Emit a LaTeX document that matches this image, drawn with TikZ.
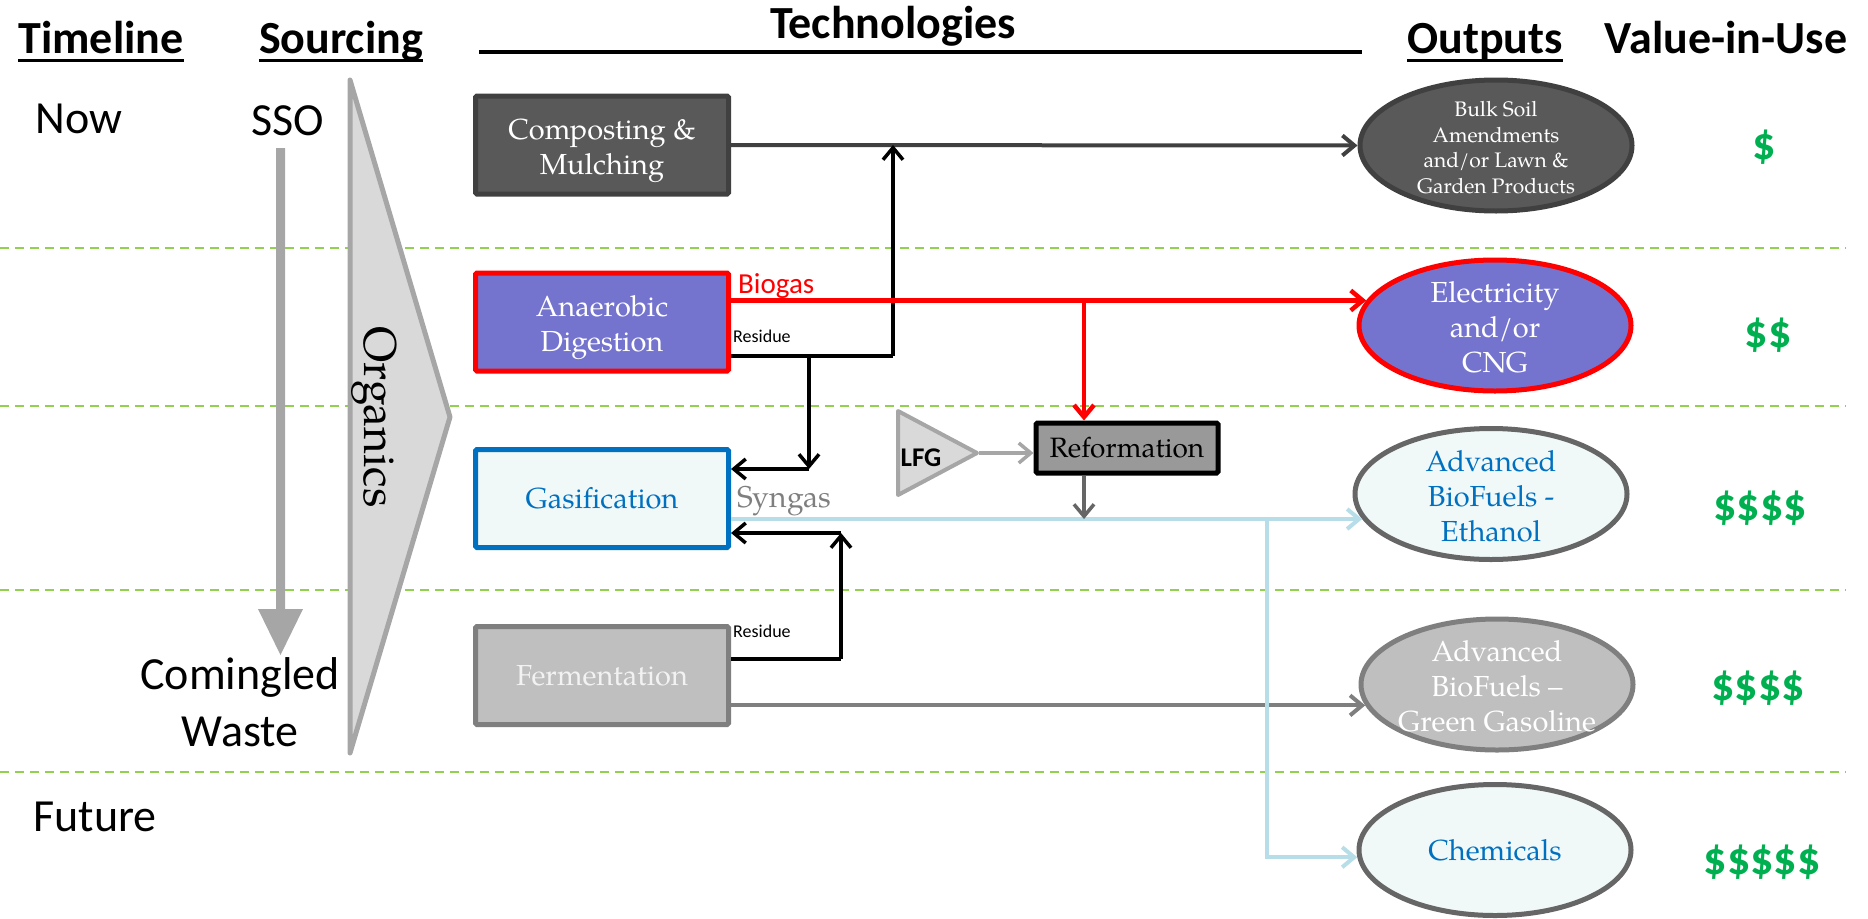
\documentclass[tikz,border=0pt]{standalone}
\usepackage{fontspec}
\setmainfont{Carlito}
\newfontfamily\palfont{texgyrepagella-regular.otf}
\usetikzlibrary{arrows.meta,shapes.geometric}
\definecolor{bandgreen}{HTML}{92D050}
\definecolor{dkbox}{HTML}{595959}
\definecolor{dkedge}{HTML}{404040}
\definecolor{adfill}{HTML}{7474CF}
\definecolor{lightfill}{HTML}{F0F8F8}
\definecolor{techblue}{HTML}{0070C0}
\definecolor{midgray}{HTML}{BFBFBF}
\definecolor{grayA}{HTML}{7F7F7F}
\definecolor{grayB}{HTML}{666666}
\definecolor{grayC}{HTML}{999999}
\definecolor{trigray}{HTML}{A6A6A6}
\definecolor{trifill}{HTML}{D9D9D9}
\definecolor{synblue}{HTML}{B7DDE8}
\definecolor{moneygreen}{HTML}{00B050}
\begin{document}
\begin{tikzpicture}[x=1pt,y=-1pt,
  >={Straight Barb[length=12pt,width=20pt]},
  hdr/.style={font=\fontsize{46}{52}\selectfont\bfseries, inner sep=0, anchor=base},
  sidetext/.style={font=\fontsize{46}{57}\selectfont, inner sep=0, align=center},
  techbox/.style={draw, line width=5pt, minimum width=253pt, minimum height=98pt, inner sep=0, align=center, font=\palfont\fontsize{29}{35}\selectfont, rounded corners=1.5pt},
  boxtext/.style={align=center, font=\palfont\fontsize{29}{35}\selectfont, inner sep=0, yshift=-6pt},
  outp/.style={ellipse, line width=5pt, inner sep=0, minimum width=272pt, minimum height=131pt},
  otext/.style={align=center, font=\palfont\fontsize{29}{35}\selectfont, inner sep=0, yshift=-2pt},
  moneytext/.style={font=\fontsize{46}{50}\selectfont\bfseries, text=moneygreen, inner sep=0},
  band/.style={draw=bandgreen, line width=2.5pt, dash pattern=on 9pt off 6pt},
  blk/.style={line width=3.5pt, draw=black},
  redline/.style={line width=4.5pt, draw=red},
  compline/.style={line width=4pt, draw=dkedge},
  fermline/.style={line width=4pt, draw=grayA},
  synline/.style={line width=4pt, draw=synblue},
  lfgline/.style={line width=3.5pt, draw=trigray},
  refline/.style={line width=3.5pt, draw=grayB},
  smalllab/.style={font=\fontsize{18}{20}\selectfont, inner sep=0, anchor=base west}
]
\useasboundingbox (0,0) rectangle (1868,918);

% horizontal bands
\draw[band] (0,248) -- (1846,248);
\draw[band] (0,406) -- (1846,406);
\draw[band] (0,590) -- (1846,590);
\draw[band] (0,772) -- (1846,772);

% headers
\node[hdr] (hTime) at (101,53) {Timeline};
\node[hdr] (hSrc) at (341,53) {Sourcing};
\node[hdr] (hTech) at (893,38) {Technologies};
\node[hdr] (hOut) at (1485,53) {Outputs};
\node[hdr] (hVal) at (1726,53) {Value-in-Use};
\draw[line width=3pt] ([yshift=-7pt]hTime.base west) -- ([yshift=-7pt]hTime.base east);
\draw[line width=3pt] ([yshift=-7pt]hSrc.base west) -- ([yshift=-7pt]hSrc.base east);
\draw[line width=3pt] ([yshift=-7pt]hOut.base west) -- ([yshift=-7pt]hOut.base east);
\draw[line width=3.5pt] (479,52) -- (1362,52);

% timeline / sourcing
\node[sidetext, anchor=base] (now) at (79,133) {Now};
\node[sidetext, anchor=base] (future) at (95,831) {Future};
\node[sidetext, anchor=base] (sso) at (288,135) {SSO};
\node[sidetext] (cw) at (240,702) {Comingled\\Waste};
\fill[trigray] (276,148) -- (285,148) -- (285,609) -- (303,609) -- (280.5,655) -- (258,609) -- (276,609) -- cycle;

% organics funnel
\draw[draw=trigray, fill=trifill, line width=5pt, line join=round] (350,80) -- (450,417) -- (350,753) -- cycle;
\node[rotate=-90, font=\palfont\fontsize{46}{50}\selectfont, inner sep=0] (org) at (374,417) {Organics};

% technologies
\node[techbox, draw=dkedge, fill=dkbox, label={[boxtext, text=white]center:Composting \&\\Mulching}] (comp) at (602,145) {};
\node[techbox, draw=red, fill=adfill, label={[boxtext, text=white]center:Anaerobic\\Digestion}] (anaer) at (602,322) {};
\node[techbox, draw=techblue, fill=lightfill, text=techblue] (gasif) at (602,498.5) {Gasification};
\node[techbox, draw=grayA, fill=midgray, text=white!95!black] (ferm) at (602,675.5) {Fermentation};

% LFG and reformation
\draw[draw=trigray, fill=trifill, line width=4pt, line join=round] (898,411) -- (977,453) -- (898,495) -- cycle;
\node[font=\fontsize{27}{30}\selectfont\bfseries, inner sep=0] (lfg) at (921,458) {LFG};
\coordinate (lfgtip) at (979,453);
\node[techbox, draw=black, fill=grayC, text=black, minimum width=182pt, minimum height=50pt, font=\palfont\fontsize{28}{32}\selectfont] (reform) at (1127,448) {Reformation};

% outputs
\node[outp, draw=dkedge, fill=dkbox, label={[otext, font=\palfont\fontsize{21}{25.7}\selectfont, text=white]center:Bulk Soil\\Amendments\\and/or Lawn \&\\Garden Products}] (bulk) at (1496,145.5) {};
\node[outp, draw=red, fill=adfill, label={[otext, text=white]center:Electricity\\and/or\\CNG}] (elec) at (1495,325.5) {};
\node[outp, draw=grayB, fill=lightfill, label={[otext, text=techblue]center:Advanced\\BioFuels -\\Ethanol}] (eth) at (1491,494) {};
\node[outp, draw=grayA, fill=midgray, label={[otext, text=white]center:Advanced\\BioFuels –\\Green Gasoline}] (gas) at (1497,684.5) {};
\node[outp, draw=grayB, fill=lightfill, label={[otext, text=techblue, yshift=2pt]center:Chemicals}] (chem) at (1495,850) {};

% values
\node[moneytext] (v1) at (1764,147) {\$};
\node[moneytext] (v2) at (1768,335) {\$\$};
\node[moneytext] (v3) at (1760,508) {\$\$\$\$};
\node[moneytext] (v4) at (1758,688) {\$\$\$\$};
\node[moneytext] (v5) at (1762,862) {\$\$\$\$\$};

% labels on connectors
\node[anchor=base west, text=red, font=\fontsize{29}{32}\selectfont, inner sep=0] (biogas) at (738,293) {Biogas};
\node[smalllab] (res1) at (733,342) {Residue};
\node[smalllab] (res2) at (733,637) {Residue};
\node[anchor=base west, text=grayA, font=\palfont\fontsize{30}{34}\selectfont, inner sep=0] (syngas) at (737,507) {Syngas};

% junction references
\coordinate (jres) at (893,356);
\coordinate (jresd) at (809,356);
\coordinate (jgasA) at (809,469);
\coordinate (jferm) at (841,659);
\coordinate (jgasB) at (841,533);
\coordinate (xred) at (1084,0);
\coordinate (xref) at (1084,0);
\coordinate (xsyn) at (1267,0);

% connectors
\draw[compline,->] (comp.east) -- (bulk.west);
\draw[fermline,->] (ferm.east |- gas.189) -- (gas.189);
\draw[synline,->] (gasif.east |- eth.191) -- (eth.191);
\draw[synline,->] (xsyn |- eth.191) -- (xsyn |- chem.183) -- (chem.183);
\draw[blk] (anaer.east |- jres) -- (jres);
\draw[blk,->] (jres) -- (jres |- comp.east);
\draw[blk,->] (jresd) -- (jgasA);
\draw[blk,->] (jgasA) -- (gasif.east |- jgasA);
\draw[blk] (ferm.east |- jferm) -- (jferm);
\draw[blk,->] (jferm) -- (jgasB);
\draw[blk,->] (jgasB) -- (gasif.east |- jgasB);
\draw[redline,->] (anaer.east |- elec.169) -- (elec.169);
\draw[redline,->] (xred |- elec.169) -- (xred |- reform.north);
\draw[lfgline,->] (lfgtip) -- (lfgtip -| reform.west);
\draw[refline,->] (xref |- reform.south) -- (xref |- eth.191);
\end{tikzpicture}
\end{document}
